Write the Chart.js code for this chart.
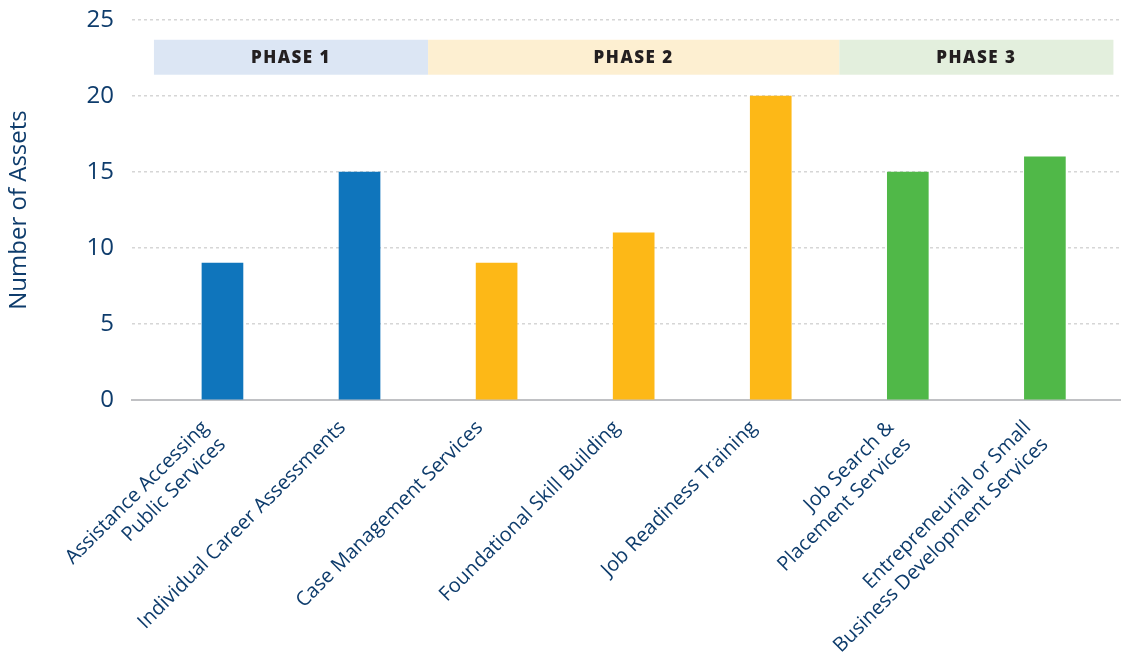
<!DOCTYPE html>
<html>
<head>
<meta charset="utf-8">
<script src="https://cdn.jsdelivr.net/npm/chart.js@4"></script>
<style>
    html, body { margin: 0; padding: 0; background: #fff; }
    #wrap { width: 1129px; height: 667px; }
</style>
</head>
<body>
<div id="wrap"><canvas id="barChart"></canvas></div>
<script>
// Data
const categories = [
    ["Assistance Accessing", "Public Services"],
    ["Individual Career Assessments"],
    ["Case Management Services"],
    ["Foundational Skill Building"],
    ["Job Readiness Training"],
    ["Job Search &", "Placement Services"],
    ["Entrepreneurial or Small", "Business Development Services"]
];
const assetCounts = [9, 15, 9, 11, 20, 15, 16];
const barColors = ["#0F75BC", "#0F75BC", "#FDB817", "#FDB817", "#FDB817", "#50B848", "#50B848"];

const phaseNames = ["PHASE 1", "PHASE 2", "PHASE 3"];
const phaseFirst = [0, 2, 5];
const phaseLast = [1, 4, 6];
const phaseColors = ["#DCE6F4", "#FDEFD1", "#E3EFDD"];

const yTicks = [0, 5, 10, 15, 20, 25];

const navy = "#0E3C6C";
const font = "'Open Sans', sans-serif";

// Phase header bands above the bars
const phaseBands = {
    id: "phaseBands",
    beforeDatasetsDraw(chart) {
        const { ctx, scales: { x, y } } = chart;
        const top = y.getPixelForValue(23.7);
        const bottom = y.getPixelForValue(21.4);
        ctx.save();
        phaseNames.forEach((name, i) => {
            const left = x.getPixelForValue(phaseFirst[i] - 0.5);
            const right = x.getPixelForValue(phaseLast[i] + 0.5);
            ctx.fillStyle = phaseColors[i];
            ctx.fillRect(left, top, right - left, bottom - top);
            ctx.fillStyle = "#231F20";
            ctx.font = "800 17px " + font;
            ctx.letterSpacing = "1.5px";
            ctx.textAlign = "center";
            ctx.textBaseline = "middle";
            ctx.fillText(name, (left + right) / 2, (top + bottom) / 2 + 1);
        });
        ctx.restore();
    }
};

const ctx = document.getElementById("barChart").getContext("2d");
new Chart(ctx, {
    type: "bar",
    data: {
        datasets: [{
            label: "Number of Assets",
            data: assetCounts.map((v, i) => ({ x: i, y: v })),
            backgroundColor: barColors,
            barThickness: 41
        }]
    },
    options: {
        responsive: true,
        maintainAspectRatio: false,
        animation: false,
        layout: { padding: { top: 20, right: 9, left: 0, bottom: 0 } },
        plugins: {
            legend: { display: false },
            tooltip: { enabled: false }
        },
        scales: {
            x: {
                type: "linear",
                offset: false,
                min: -0.66,
                max: 6.548,
                afterBuildTicks: s => { s.ticks = categories.map((c, i) => ({ value: i })); },
                afterFit: s => { s.height = 267; },
                grid: { display: false, offset: false },
                border: { display: true, color: "#C0C1C4", width: 2 },
                ticks: {
                    autoSkip: false,
                    minRotation: 45,
                    maxRotation: 45,
                    padding: 8,
                    labelOffset: -17,
                    color: navy,
                    font: { family: font, size: 20, lineHeight: 1.2 },
                    callback: v => categories[v]
                }
            },
            y: {
                min: 0,
                max: 25,
                afterBuildTicks: s => { s.ticks = yTicks.map(v => ({ value: v })); },
                afterFit: s => { s.width = 132; s.paddingTop = 0; s.paddingBottom = 0; },
                border: { display: false, dash: [3, 3] },
                grid: {
                    drawTicks: false,
                    color: c => c.tick.value === 0 ? "rgba(0,0,0,0)" : "#D6D6D6",
                    lineWidth: 1.5
                },
                ticks: {
                    padding: 18,
                    color: navy,
                    font: { family: font, size: 24 }
                },
                title: {
                    display: true,
                    text: "Number of Assets",
                    color: navy,
                    font: { family: font, size: 24 },
                    padding: { top: 5, bottom: 0 }
                }
            }
        }
    },
    plugins: [phaseBands]
});
</script>
</body>
</html>
